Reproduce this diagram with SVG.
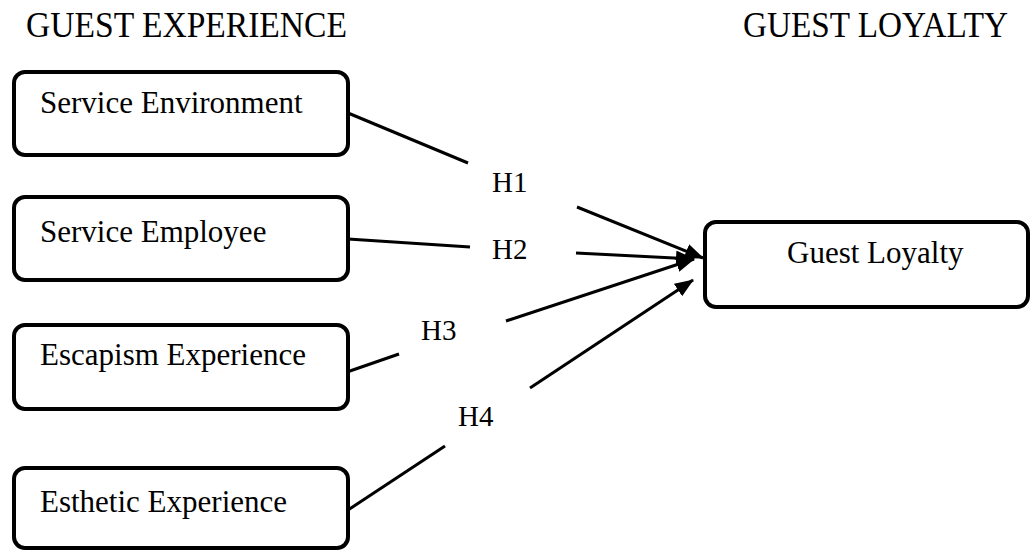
<svg xmlns="http://www.w3.org/2000/svg" width="1031" height="550" viewBox="0 0 1031 550">
<style>
.box{fill:#fff;stroke:#000;stroke-width:4}
.t{font-family:"Liberation Serif","Times New Roman",serif;fill:#000}
.head{font-size:35px}
.lbl{font-size:31px}
.h{font-size:29px}
.ln{stroke:#000;stroke-width:3;fill:none}
</style>
<defs>
<marker id="ah" markerUnits="userSpaceOnUse" markerWidth="19" markerHeight="15" refX="18" refY="7.5" orient="auto">
<path d="M0,0 L19,7.5 L0,15 Z" fill="#000"/>
</marker>
</defs>
<rect width="1031" height="550" fill="#fff"/>
<text class="t head" x="26" y="37" textLength="321" lengthAdjust="spacingAndGlyphs">GUEST EXPERIENCE</text>
<text class="t head" x="743" y="37" textLength="265" lengthAdjust="spacingAndGlyphs">GUEST LOYALTY</text>
<g id="n1"><rect class="box" x="14" y="72" width="334" height="83" rx="11"/><text class="t lbl" x="40" y="113">Service Environment</text></g>
<g id="n2"><rect class="box" x="14" y="197" width="334" height="83" rx="11"/><text class="t lbl" x="40" y="242">Service Employee</text></g>
<g id="n3"><rect class="box" x="14" y="325" width="334" height="84" rx="11"/><text class="t lbl" x="40" y="365">Escapism Experience</text></g>
<g id="n4"><rect class="box" x="14" y="468" width="334" height="80" rx="11"/><text class="t lbl" x="40" y="512">Esthetic Experience</text></g>
<g id="n5"><rect class="box" x="705" y="222" width="323" height="85" rx="11"/><text class="t lbl" x="787" y="263">Guest Loyalty</text></g>
<g id="connectors">
<path class="ln" d="M348,113 L468,163"/>
<path class="ln" d="M577,207 L703,258" marker-end="url(#ah)"/>
<path class="ln" d="M348,239 L470,247"/>
<path class="ln" d="M576,253 L694,259" marker-end="url(#ah)"/>
<path class="ln" d="M347,372 L399,354"/>
<path class="ln" d="M506,321 L694,259" marker-end="url(#ah)"/>
<path class="ln" d="M348,510 L445,446"/>
<path class="ln" d="M530,388 L693,280" marker-end="url(#ah)"/>
<text class="t h" x="492" y="192">H1</text>
<text class="t h" x="492" y="259">H2</text>
<text class="t h" x="421" y="340">H3</text>
<text class="t h" x="458" y="426">H4</text>
</g>
</svg>
